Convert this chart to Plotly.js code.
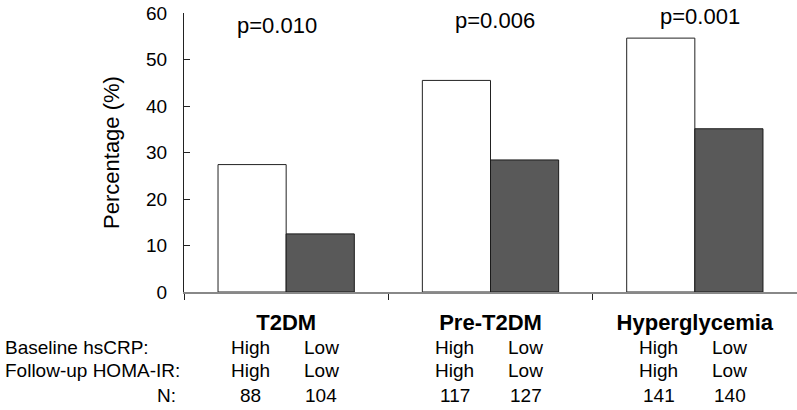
<!DOCTYPE html>
<html>
<head>
<meta charset="utf-8">
<script src="https://cdn.plot.ly/plotly-3.0.1.min.js"></script>
<style>
  html, body { margin: 0; padding: 0; background: #fff; }
  #chart { width: 797px; height: 410px; }
</style>
</head>
<body>
<div id="chart"></div>
<script>
// ---- data ----
var categories = ["T2DM", "Pre-T2DM", "Hyperglycemia"];
var highValues = [27.4, 45.5, 54.6];   // Baseline hsCRP High / Follow-up HOMA-IR High
var lowValues  = [12.5, 28.4, 35.1];   // Baseline hsCRP Low / Follow-up HOMA-IR Low
var pValues    = ["p=0.010", "p=0.006", "p=0.001"];
var pLabelY    = [57.4, 58.4, 59.2];
var hsCRP      = ["High", "Low"];
var homaIR     = ["High", "Low"];
var nHigh      = [88, 117, 141];
var nLow       = [104, 127, 140];
var rowLabels  = ["Baseline hsCRP:", "Follow-up HOMA-IR:", "N:"];

// ---- styles ----
var FONT = "Liberation Sans, Arial, Helvetica, sans-serif";
var pShift = [-9, 4, 5];

var traces = [
  {
    type: "bar", x: categories, y: highValues, name: "High",
    marker: { color: "#ffffff", line: { color: "#222222", width: 1 } },
    hoverinfo: "skip"
  },
  {
    type: "bar", x: categories, y: lowValues, name: "Low",
    marker: { color: "#595959", line: { color: "#1a1a1a", width: 1 } },
    hoverinfo: "skip"
  }
];

var annotations = [];
// p-values
categories.forEach(function (c, i) {
  annotations.push({
    x: c, y: pLabelY[i], xref: "x", yref: "y", text: pValues[i],
    showarrow: false, xshift: pShift[i], xanchor: "center", yanchor: "middle",
    font: { family: FONT, size: 22, color: "#000" }
  });
});
// row labels below chart
var rowY = [-0.199, -0.283, -0.372];
annotations.push({ x: -0.295, y: rowY[0], xref: "paper", yref: "paper", text: rowLabels[0],
  showarrow: false, xanchor: "left", yanchor: "middle", font: { family: FONT, size: 19, color: "#000" } });
annotations.push({ x: -0.295, y: rowY[1], xref: "paper", yref: "paper", text: rowLabels[1],
  showarrow: false, xanchor: "left", yanchor: "middle", font: { family: FONT, size: 19, color: "#000" } });
annotations.push({ x: -0.01, y: rowY[2], xref: "paper", yref: "paper", text: rowLabels[2],
  showarrow: false, xanchor: "right", yanchor: "middle", font: { family: FONT, size: 19, color: "#000" } });

categories.forEach(function (c, i) {
  var cols = [
    { shift: -36, vals: [hsCRP[0], homaIR[0], String(nHigh[i])] },
    { shift: 35, vals: [hsCRP[1], homaIR[1], String(nLow[i])] }
  ];
  cols.forEach(function (col) {
    col.vals.forEach(function (t, r) {
      annotations.push({
        x: c, y: rowY[r], xref: "x", yref: "paper", text: t,
        showarrow: false, xshift: col.shift, xanchor: "center", yanchor: "middle",
        font: { family: FONT, size: 19, color: "#000" }
      });
    });
  });
});

var layout = {
  width: 797, height: 410,
  margin: { l: 184, r: 0, t: 13, b: 118, pad: 0 },
  paper_bgcolor: "#ffffff", plot_bgcolor: "#ffffff",
  showlegend: false,
  barmode: "group", bargap: 0.333, bargroupgap: 0,
  font: { family: FONT, color: "#000" },
  xaxis: {
    type: "category",
    showline: true, linecolor: "#888888", linewidth: 2,
    ticks: "outside", tickson: "boundaries", ticklen: 6, tickcolor: "#222222", tickwidth: 1,
    tickfont: { family: FONT, size: 22, color: "#000", weight: "bold" },
    ticklabelstandoff: 10,
    showgrid: false, zeroline: false, fixedrange: true
  },
  yaxis: {
    range: [0, 60], dtick: 10, tick0: 0,
    showline: true, linecolor: "#222222", linewidth: 1,
    ticks: "inside", ticklen: 6, tickcolor: "#222222", tickwidth: 1,
    tickfont: { family: FONT, size: 19, color: "#000" },
    ticklabelstandoff: 12,
    showgrid: false, zeroline: false, fixedrange: true,
    title: { text: "Percentage (%)", font: { family: FONT, size: 22, color: "#000" }, standoff: 20 }
  },
  annotations: annotations
};

Plotly.newPlot("chart", traces, layout, { staticPlot: true, displayModeBar: false });
</script>
</body>
</html>
